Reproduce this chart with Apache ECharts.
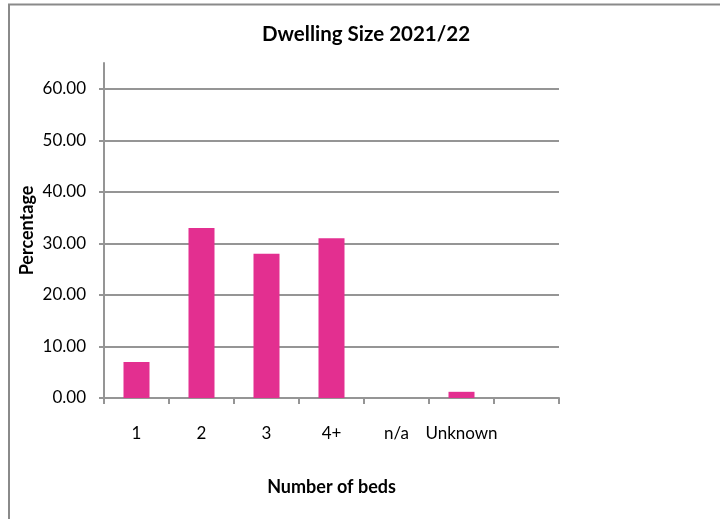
<!DOCTYPE html>
<html>
<head>
<meta charset="utf-8">
<style>
  html, body { margin: 0; padding: 0; background: #ffffff; }
  #chart { width: 720px; height: 519px; }
</style>
<script src="https://cdn.jsdelivr.net/npm/echarts@6/dist/echarts.min.js"></script>
</head>
<body>
<div id="chart"></div>
<script>
// Dwelling size breakdown, 2021/22
const categories = ['1', '2', '3', '4+', 'n/a', 'Unknown', ''];
const percentages = [7, 33, 28, 31, 0, 1.2, null];
const yTicks = [0, 10, 20, 30, 40, 50, 60];

const FONT = 'Lato, "Open Sans", sans-serif';
const AXIS_GREY = '#959595';

const chart = echarts.init(document.getElementById('chart'), null, { renderer: 'canvas' });

chart.setOption({
  animation: false,
  backgroundColor: '#ffffff',
  graphic: [{
    type: 'rect',
    silent: true,
    shape: { x: 9, y: 4.5, width: 760, height: 560 },
    style: { fill: 'none', stroke: '#8a8a8a', lineWidth: 2 }
  }],
  title: {
    text: 'Dwelling Size 2021/22',
    left: 366,
    top: 24,
    padding: 0,
    textAlign: 'center',
    textStyle: { fontFamily: FONT, fontSize: 20.5, fontWeight: 'bold', color: '#000' }
  },
  grid: { left: 104, right: 161, top: 63, bottom: 121, containLabel: false },
  xAxis: {
    type: 'category',
    data: categories,
    boundaryGap: true,
    name: 'Number of beds',
    nameLocation: 'middle',
    nameGap: 80,
    nameMoveOverlap: false,
    nameTextStyle: { fontFamily: FONT, fontSize: 18, fontWeight: 'bold', color: '#000' },
    axisLine: { show: true, lineStyle: { color: AXIS_GREY, width: 2 } },
    axisTick: { show: true, alignWithLabel: false, inside: false, length: 6, lineStyle: { color: AXIS_GREY, width: 2 } },
    axisLabel: { interval: 0, margin: 27, fontFamily: FONT, fontSize: 17, color: '#000' },
    splitLine: { show: false }
  },
  yAxis: {
    type: 'value',
    min: 0,
    max: 65,
    interval: 10,
    name: 'Percentage',
    nameLocation: 'middle',
    nameGap: 68,
    nameMoveOverlap: false,
    nameTextStyle: { fontFamily: FONT, fontSize: 18, fontWeight: 'bold', color: '#000' },
    axisLine: { show: true, lineStyle: { color: AXIS_GREY, width: 2 } },
    axisTick: { show: true, length: 5, customValues: yTicks, lineStyle: { color: AXIS_GREY, width: 2 } },
    axisLabel: {
      margin: 18,
      customValues: yTicks,
      fontFamily: FONT,
      fontSize: 17,
      color: '#000',
      formatter: v => (v > 60 ? '' : v.toFixed(2))
    },
    splitLine: {
      show: true,
      lineStyle: {
        color: [AXIS_GREY, AXIS_GREY, AXIS_GREY, AXIS_GREY, AXIS_GREY, AXIS_GREY, AXIS_GREY, 'rgba(0,0,0,0)'],
        width: 2
      }
    }
  },
  series: [{
    type: 'bar',
    data: percentages,
    barWidth: '40%',
    itemStyle: { color: '#e32f90', borderWidth: 0 }
  }]
});
</script>
</body>
</html>
